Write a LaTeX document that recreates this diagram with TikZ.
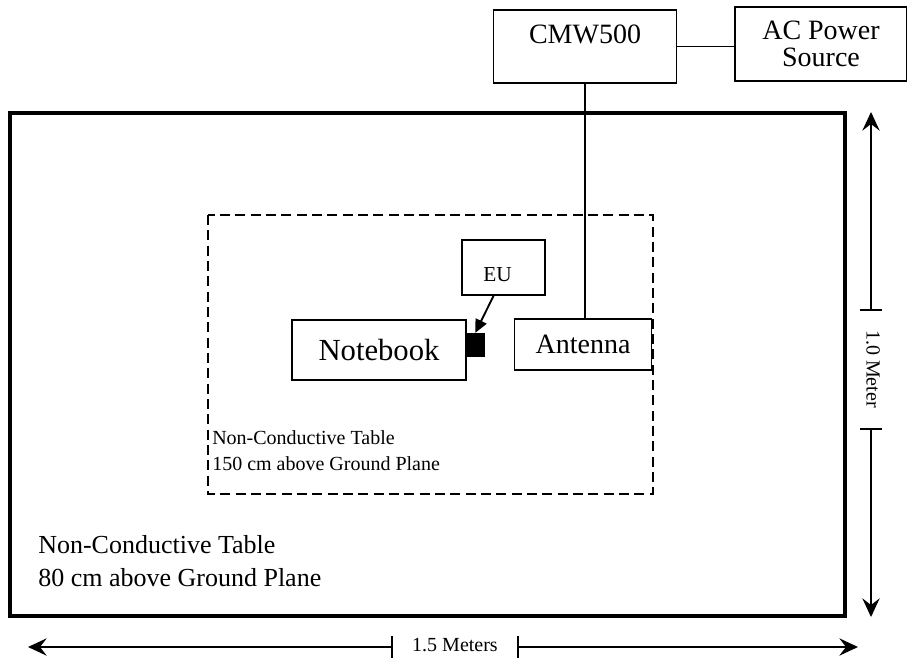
\documentclass[tikz,border=0pt]{standalone}
\usepackage{fontspec}
\setmainfont{Liberation Serif}
\usetikzlibrary{arrows.meta,positioning,calc}
\tikzset{
box/.style = {draw, line width=1.4pt, rectangle, inner sep=0pt, font=\fontsize{21}{23}\selectfont},
dutbox/.style = {draw, fill=black, rectangle, inner sep=0pt, minimum width=13.5pt, minimum height=17pt},
wire/.style = {line width=1.4pt},
note/.style = {align=left, anchor=north west, inner sep=0pt},
dim/.style = {line width=1.1pt},
dimtip/.style = {-{Stealth[length=14pt,width=13pt,inset=5pt]}, line width=1.1pt},
}
\begin{document}
\begin{tikzpicture}[x=0.75pt, y=-0.75pt]
    \useasboundingbox (0,0) rectangle (907,659);
    % ground plane table and raised table
    \draw [line width=2.5pt] (10,113) rectangle (845,616);
    \draw [line width=1.9pt, dash pattern=on 7.5pt off 4pt] (208,215) rectangle (653,494);
    % equipment
    \node [box, minimum width=137.25pt, minimum height=54.75pt, text height=25pt, text depth=29.75pt] (cmw) at (585,46.5) {CMW500};
    \node [box, minimum width=129pt, minimum height=55.5pt, align=center, font=\fontsize{21}{20}\selectfont] (ac) at (821,44) {AC Power\\Source};
    \node [box, minimum width=130.5pt, minimum height=45pt, font=\fontsize{23}{25}\selectfont] (nb) at (379,350) {Notebook};
    \node [box, minimum width=102.75pt, minimum height=38pt] (ant) at (583,344.5) {Antenna};
    \node [box, minimum width=62.25pt, minimum height=41.25pt, text height=31pt, text depth=10.25pt, font=\fontsize{16}{18}\selectfont] (eu) at (503.5,267.5) {EU\hspace*{9pt}};
    \node [dutbox, anchor=west] (dut) at (466,344.5) {};
    \draw [wire] (cmw.east) -- (cmw.east -| ac.west);
    \draw [wire] (cmw.south) -- (cmw.south |- ant.north);
    \draw [wire, -{Triangle[length=10pt,width=9pt]}] ($(eu.south)+(-10,0)$) -- (dut.north);
    % table notes
    \node [note, font=\fontsize{15}{19.5}\selectfont] (t1) at (212,430) {Non-Conductive Table\\150 cm above Ground Plane};
    \node [note, font=\fontsize{19.5}{24.75}\selectfont] (t2) at (38,535) {Non-Conductive Table\\80 cm above Ground Plane};
    % dimensions
    \coordinate (vtop) at (871,112);
    \coordinate (vbot) at (871,617);
    \coordinate (vt1) at (871,310);
    \coordinate (vt2) at (871,429);
    \node [rotate=-90, font=\fontsize{15}{17}\selectfont] (vlab) at (873,369) {1.0 Meter};
    \draw [dimtip] (vt1) -- (vtop);
    \draw [dimtip] (vt2) -- (vbot);
    \draw [dim] ($(vt1)+(-11,0)$) -- ($(vt1)+(11,0)$);
    \draw [dim] ($(vt2)+(-11,0)$) -- ($(vt2)+(11,0)$);
    \coordinate (hl) at (28,647);
    \coordinate (hr) at (858,647);
    \coordinate (ht1) at (392,647);
    \coordinate (ht2) at (518,647);
    \node [font=\fontsize{15}{17}\selectfont] (hlab) at (455,645) {1.5 Meters};
    \draw [dimtip] (ht1) -- (hl);
    \draw [dimtip] (ht2) -- (hr);
    \draw [dim] ($(ht1)+(0,-11)$) -- ($(ht1)+(0,11)$);
    \draw [dim] ($(ht2)+(0,-11)$) -- ($(ht2)+(0,11)$);
\end{tikzpicture}
\end{document}
